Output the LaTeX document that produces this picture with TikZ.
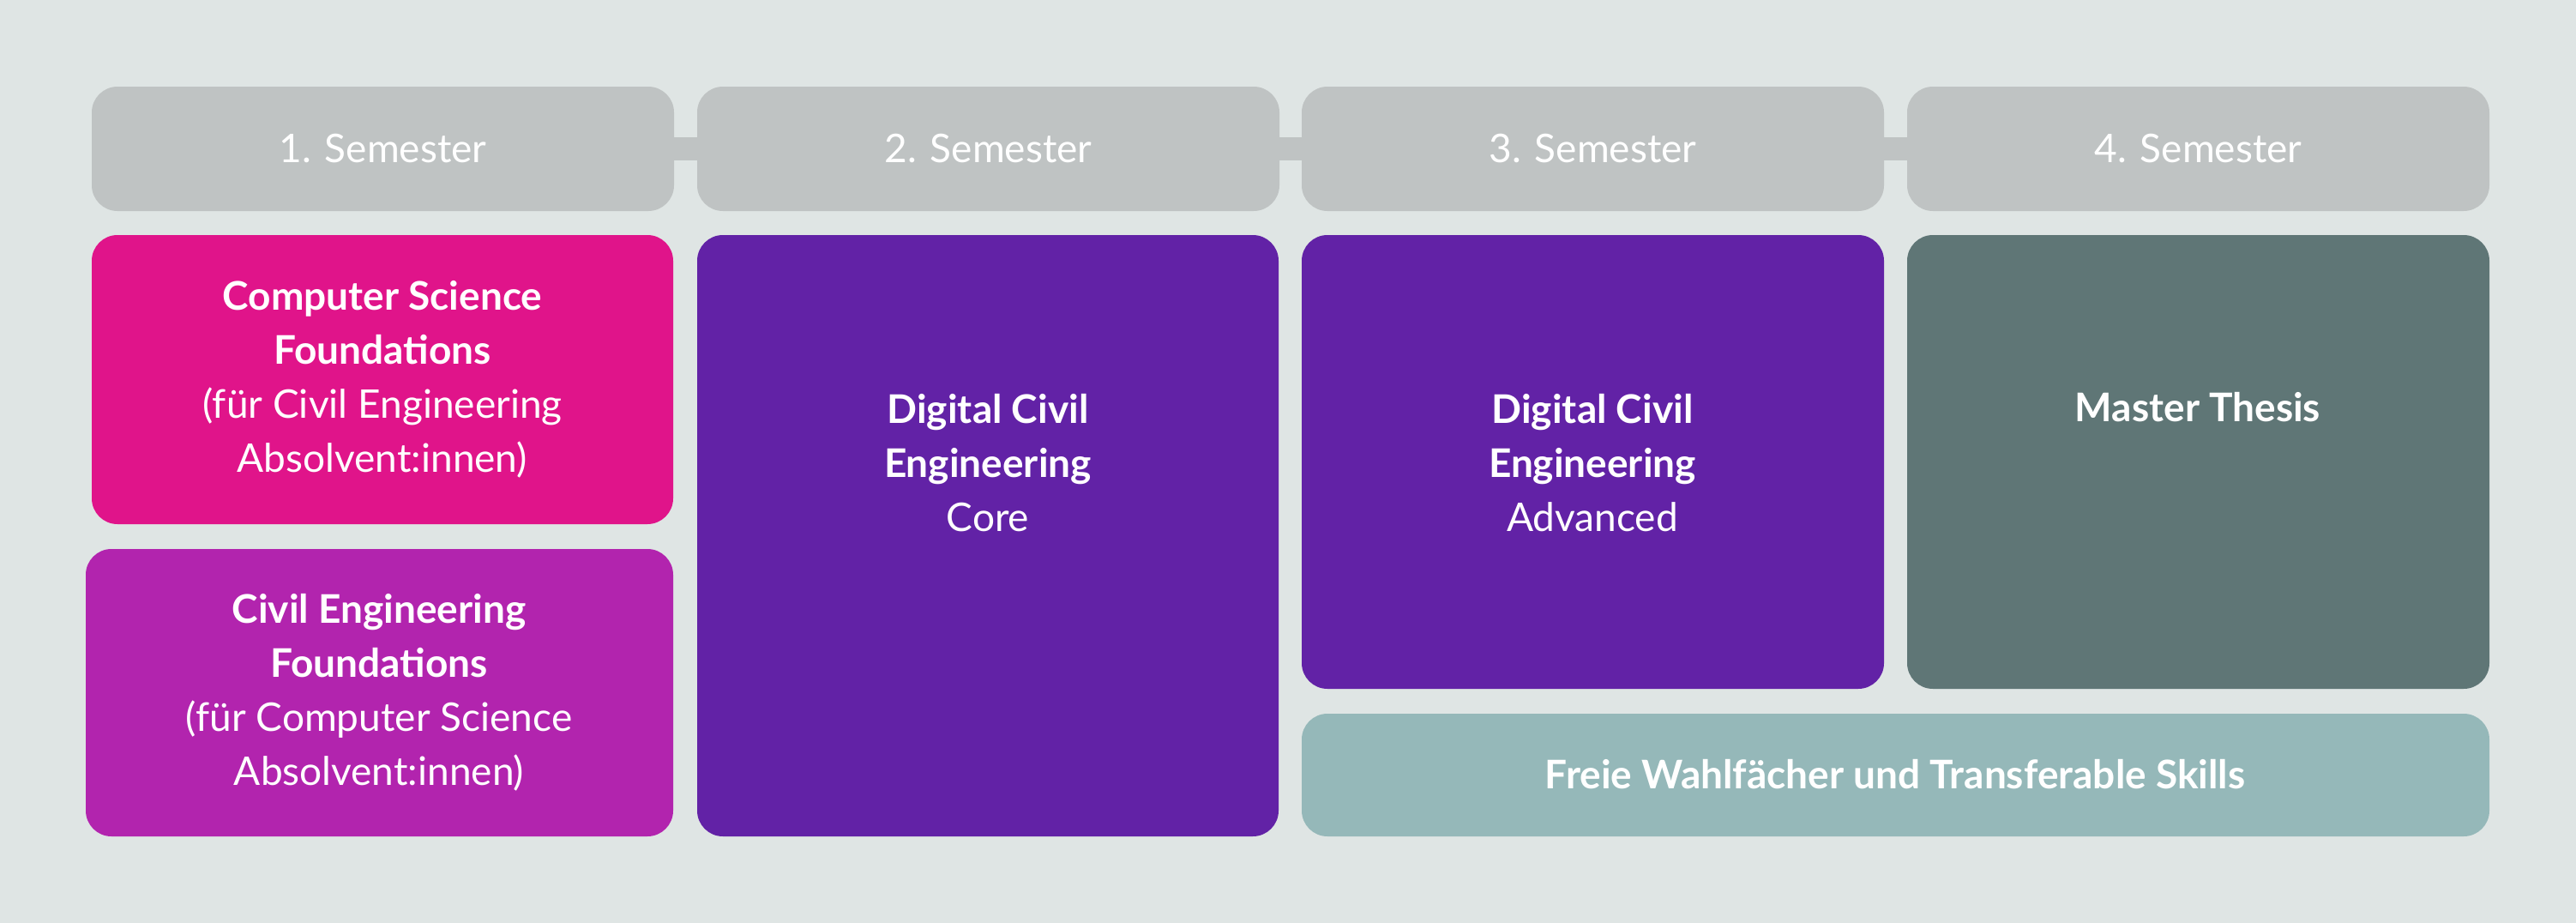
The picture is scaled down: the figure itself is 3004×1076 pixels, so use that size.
\documentclass[tikz,border=0pt]{standalone}
\usepackage{fontspec}
\setmainfont{Lato}
\definecolor{bg}{HTML}{DFE5E4}
\definecolor{sem}{HTML}{BFC3C3}
\definecolor{pinkc}{HTML}{E0148A}
\definecolor{magc}{HTML}{B224AE}
\definecolor{purc}{HTML}{6222A6}
\definecolor{slatec}{HTML}{5F7676}
\definecolor{tealc}{HTML}{95B8B9}
\tikzset{box/.style={rounded corners=30pt},
 lbl/.style={text=white,align=center,font=\fontsize{46}{63}\selectfont}}
\begin{document}
\begin{tikzpicture}[x=1pt,y=-1pt]
\fill[bg] (0,0) rectangle (3004,1076);
\useasboundingbox (0,0) rectangle (3004,1076);
% connectors
\fill[sem] (780,160) rectangle (2230,187);
\foreach \i/\x in {1/107,2/813,3/1518,4/2224}{
 \fill[sem,box] (\x,101) rectangle ++(679,145);
 \node[lbl] (s\i) at (\x+339.5,173) {\i. Semester};
}
\fill[pinkc,box] (107,274) rectangle (785,611);
\node[lbl] (cs) at (446,442) {\textbf{Computer Science}\\\textbf{Foundations}\\(für Civil Engineering\\Absolvent:innen)};
\fill[magc,box] (100,640) rectangle (785,975);
\node[lbl] (ce) at (442,807) {\textbf{Civil Engineering}\\\textbf{Foundations}\\(für Computer Science\\Absolvent:innen)};
\fill[purc,box] (813,274) rectangle (1491,975);
\node[lbl] (core) at (1152,540) {\textbf{Digital Civil}\\\textbf{Engineering}\\Core};
\fill[purc,box] (1518,274) rectangle (2197,803);
\node[lbl] (adv) at (1857,540) {\textbf{Digital Civil}\\\textbf{Engineering}\\Advanced};
\fill[slatec,box] (2224,274) rectangle (2903,803);
\node[lbl] (mt) at (2563,475) {\textbf{Master Thesis}};
\fill[tealc,box] (1518,832) rectangle (2903,975);
\node[lbl] (fw) at (2210,903) {\textbf{Freie Wahlfächer und Transferable Skills}};
\end{tikzpicture}
\end{document}
